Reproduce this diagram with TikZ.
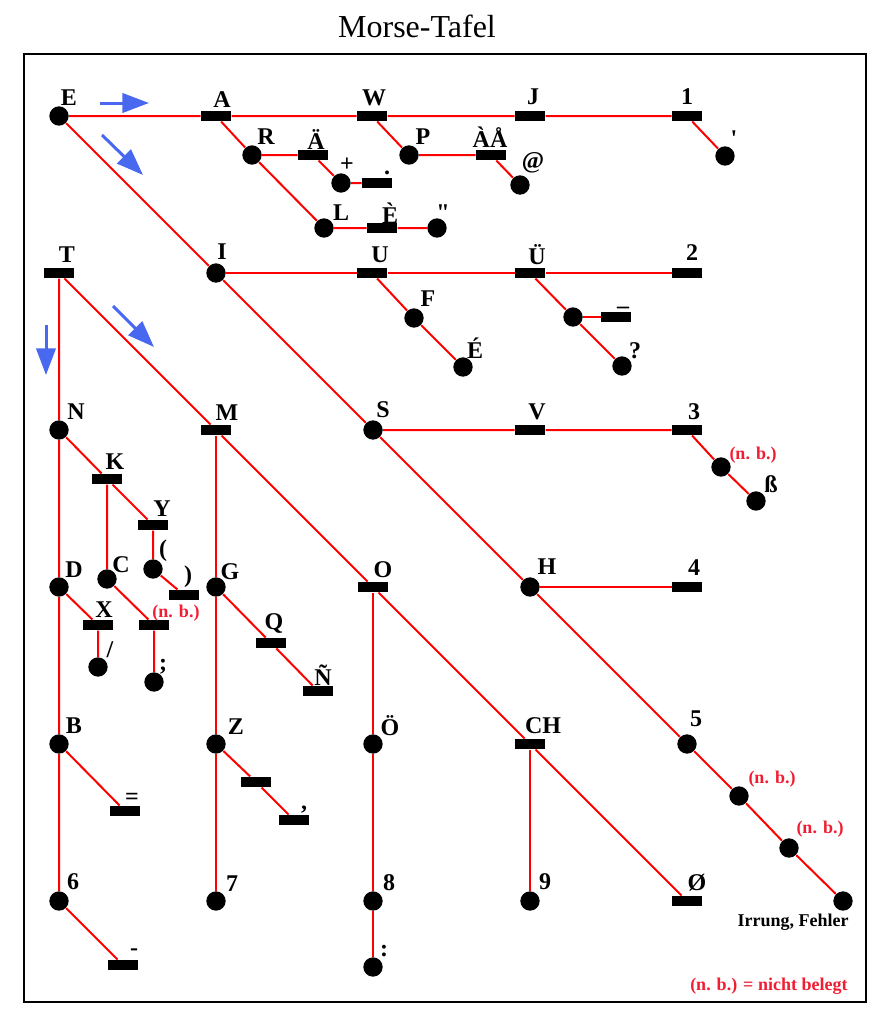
\documentclass[tikz,border=0pt]{standalone}
\usepackage{fontspec}
\setmainfont{Liberation Serif}
\usetikzlibrary{arrows.meta}

\tikzset{every picture/.style={line width=0.75pt}}
\tikzset{
  dot/.style={circle, fill=black, inner sep=0pt, minimum size=14.5pt},
  bar/.style={rectangle, fill=black, inner sep=0pt, minimum width=22.5pt, minimum height=7.5pt},
  wire/.style={color={rgb, 255:red, 255; green, 0; blue, 0}, line width=1.5pt},
  lab/.style={inner sep=0pt, font=\fontsize{18}{18}\selectfont\bfseries},
  nb/.style={inner sep=0pt, text={rgb, 255:red, 240; green, 30; blue, 50}, font=\fontsize{13.5}{14}\selectfont\bfseries},
  dirarrow/.style={color={rgb, 255:red, 72; green, 104; blue, 240}, line width=2.25pt, -{Triangle[length=20pt, width=14.5pt]}},
}

\begin{document}
\begin{tikzpicture}[x=0.75pt,y=0.75pt,yscale=-1,xscale=1]
	\useasboundingbox (0,0) rectangle (887,1024);

	% Text Node
	\draw (417,38) node [anchor=base, inner sep=0pt, font=\fontsize{24}{24}\selectfont] (title) {Morse-Tafel};
	%Shape: Rectangle
	\draw [line width=1.5pt] (24,54) rectangle (866,1002);

	%Shape: direction arrows
	\draw [dirarrow] (100,103) -- (149,103);
	\draw [dirarrow] (102,135) -- (143,175);
	\draw [dirarrow] (113,306) -- (154,347);
	\draw [dirarrow] (46,325) -- (46,375);

	%Nodes: E branch
	\draw (59,116) node [dot] (E) {};
	\draw (216,116) node [bar] (A) {};
	\draw (372,116) node [bar] (W) {};
	\draw (530,116) node [bar] (J) {};
	\draw (687,116) node [bar] (one) {};
	\draw (725,156) node [dot] (apos) {};
	\draw (252,155) node [dot] (R) {};
	\draw (313,155) node [bar] (Ae) {};
	\draw (341,183) node [dot] (plus) {};
	\draw (377,183) node [bar] (period) {};
	\draw (409,155) node [dot] (P) {};
	\draw (491,155) node [bar] (AA) {};
	\draw (520,185) node [dot] (at) {};
	\draw (324,228) node [dot] (L) {};
	\draw (382,228) node [bar] (Eg) {};
	\draw (437,228) node [dot] (quot) {};
	\draw (216,273) node [dot] (I) {};
	\draw (372,273) node [bar] (U) {};
	\draw (530,273) node [bar] (Ue) {};
	\draw (687,273) node [bar] (two) {};
	\draw (414,318) node [dot] (F) {};
	\draw (463,367) node [dot] (Ea) {};
	\draw (573,317) node [dot] (ux) {};
	\draw (616,317) node [bar] (uscore) {};
	\draw (622,366) node [dot] (ques) {};
	\draw (373,430) node [dot] (S) {};
	\draw (530,430) node [bar] (V) {};
	\draw (687,430) node [bar] (three) {};
	\draw (721,467) node [dot] (nbT) {};
	\draw (756,501) node [dot] (ss) {};
	\draw (530,587) node [dot] (H) {};
	\draw (687,587) node [bar] (four) {};
	\draw (687,744) node [dot] (five) {};
	\draw (739,796) node [dot] (nbFa) {};
	\draw (789,848) node [dot] (nbFb) {};
	\draw (843,901) node [dot] (err) {};

	%Nodes: T branch
	\draw (59,273) node [bar] (T) {};
	\draw (59,430) node [dot] (N) {};
	\draw (216,430) node [bar] (M) {};
	\draw (107,479) node [bar] (K) {};
	\draw (153,525) node [bar] (Y) {};
	\draw (153,569) node [dot] (lpar) {};
	\draw (184,595) node [bar] (rpar) {};
	\draw (59,587) node [dot] (D) {};
	\draw (107,579) node [dot] (C) {};
	\draw (98,625) node [bar] (X) {};
	\draw (98,667) node [dot] (slash) {};
	\draw (154,625) node [bar] (nbC) {};
	\draw (154,682) node [dot] (semi) {};
	\draw (216,587) node [dot] (G) {};
	\draw (271,643) node [bar] (Q) {};
	\draw (318,691) node [bar] (Nt) {};
	\draw (373,587) node [bar] (O) {};
	\draw (59,744) node [dot] (B) {};
	\draw (125,811) node [bar] (equal) {};
	\draw (216,744) node [dot] (Z) {};
	\draw (256,782) node [bar] (zb) {};
	\draw (294,820) node [bar] (comma) {};
	\draw (373,744) node [dot] (Oe) {};
	\draw (530,744) node [bar] (CH) {};
	\draw (59,901) node [dot] (six) {};
	\draw (123,965) node [bar] (hyph) {};
	\draw (216,901) node [dot] (seven) {};
	\draw (373,901) node [dot] (eight) {};
	\draw (373,967) node [dot] (colon) {};
	\draw (530,901) node [dot] (nine) {};
	\draw (687,901) node [bar] (zero) {};

	%Connectors
	\draw [wire] (E) -- (A) -- (W) -- (J) -- (one) -- (apos);
	\draw [wire] (E) -- (I) -- (S) -- (H) -- (five) -- (nbFa) -- (nbFb) -- (err);
	\draw [wire] (A) -- (R) -- (L) -- (Eg) -- (quot);
	\draw [wire] (R) -- (Ae) -- (plus) -- (period);
	\draw [wire] (W) -- (P) -- (AA) -- (at);
	\draw [wire] (I) -- (U) -- (Ue) -- (two);
	\draw [wire] (U) -- (F) -- (Ea);
	\draw [wire] (Ue) -- (ux) -- (ques);
	\draw [wire] (ux) -- (uscore);
	\draw [wire] (S) -- (V) -- (three) -- (nbT) -- (ss);
	\draw [wire] (H) -- (four);
	\draw [wire] (T) -- (N) -- (D) -- (B) -- (six) -- (hyph);
	\draw [wire] (T) -- (M) -- (O) -- (CH) -- (zero);
	\draw [wire] (N) -- (K) -- (Y) -- (lpar) -- (rpar);
	\draw [wire] (K) -- (C) -- (nbC) -- (semi);
	\draw [wire] (D) -- (X) -- (slash);
	\draw [wire] (B) -- (equal);
	\draw [wire] (M) -- (G) -- (Z) -- (seven);
	\draw [wire] (G) -- (Q) -- (Nt);
	\draw [wire] (Z) -- (zb) -- (comma);
	\draw [wire] (O) -- (Oe) -- (eight) -- (colon);
	\draw [wire] (CH) -- (nine);

	% Text Node
	\draw (69,98) node [lab] (tE) {E};
	\draw (222,100) node [lab] (tA) {A};
	\draw (374,98) node [lab] (tW) {W};
	\draw (533,97) node [lab] (tJ) {J};
	\draw (687,97) node [lab] (tone) {1};
	\draw (734,139) node [lab] (tapos) {\textquotesingle};
	\draw (266,137) node [lab] (tR) {R};
	\draw (316,140) node [lab] (tAe) {Ä};
	\draw (347,165) node [lab] (tplus) {+};
	\draw (387,173) node [lab] (tperiod) {.};
	\draw (423,137) node [lab] (tP) {P};
	\draw (490,137) node [lab] (tAA) {ÀÅ};
	\draw (533,163) node [lab] (tat) {@};
	\draw (341,213) node [lab] (tL) {L};
	\draw (390,213) node [lab] (tEg) {È};
	\draw (443,213) node [lab] (tquot) {\textquotedbl};
	\draw (67,255) node [lab] (tT) {T};
	\draw (222,252) node [lab] (tI) {I};
	\draw (380,255) node [lab] (tU) {U};
	\draw (537,255) node [lab] (tUe) {Ü};
	\draw (692,253) node [lab] (ttwo) {2};
	\draw (428,299) node [lab] (tF) {F};
	\draw (475,348) node [lab] (tEa) {É};
	\draw (623,307) node [lab] (tuscore) {\_};
	\draw (635,351) node [lab] (tques) {?};
	\draw (76,412) node [lab] (tN) {N};
	\draw (227,413) node [lab] (tM) {M};
	\draw (383,410) node [lab] (tS) {S};
	\draw (537,412) node [lab] (tV) {V};
	\draw (694,412) node [lab] (tthree) {3};
	\draw (753,455) node [nb] (tnbT) {(n. b.)};
	\draw (771,484) node [lab] (tss) {ß};
	\draw (115,462) node [lab] (tK) {K};
	\draw (162,509) node [lab] (tY) {Y};
	\draw (163,551) node [lab] (tlpar) {(};
	\draw (188,577) node [lab] (trpar) {)};
	\draw (74,570) node [lab] (tD) {D};
	\draw (121,565) node [lab] (tC) {C};
	\draw (230,572) node [lab] (tG) {G};
	\draw (104,610) node [lab] (tX) {X};
	\draw (176,613) node [nb] (tnbC) {(n. b.)};
	\draw (110,650) node [lab] (tslash) {/};
	\draw (163,667) node [lab] (tsemi) {;};
	\draw (274,623) node [lab] (tQ) {Q};
	\draw (323,675) node [lab] (tNt) {Ñ};
	\draw (383,570) node [lab] (tO) {O};
	\draw (547,567) node [lab] (tH) {H};
	\draw (694,568) node [lab] (tfour) {4};
	\draw (74,726) node [lab] (tB) {B};
	\draw (132,799) node [lab] (tequal) {=};
	\draw (236,727) node [lab] (tZ) {Z};
	\draw (304,810) node [lab] (tcomma) {,};
	\draw (390,726) node [lab] (tOe) {Ö};
	\draw (543,726) node [lab] (tCH) {CH};
	\draw (696,719) node [lab] (tfive) {5};
	\draw (772,779) node [nb] (tnbFa) {(n. b.)};
	\draw (820,829) node [nb] (tnbFb) {(n. b.)};
	\draw (849,926) node [anchor=base east, inner sep=0pt, font=\fontsize{13.5}{14}\selectfont\bfseries] (terr) {Irrung, Fehler};
	\draw (73,882) node [lab] (tsix) {6};
	\draw (134,952) node [lab] (thyph) {-};
	\draw (232,884) node [lab] (tseven) {7};
	\draw (389,883) node [lab] (teight) {8};
	\draw (384,951) node [lab] (tcolon) {:};
	\draw (545,882) node [lab] (tnine) {9};
	\draw (697,883) node [lab] (tzero) {Ø};
	\draw (848,990) node [nb, anchor=base east] (legend) {(n. b.) = nicht belegt};

\end{tikzpicture}
\end{document}
